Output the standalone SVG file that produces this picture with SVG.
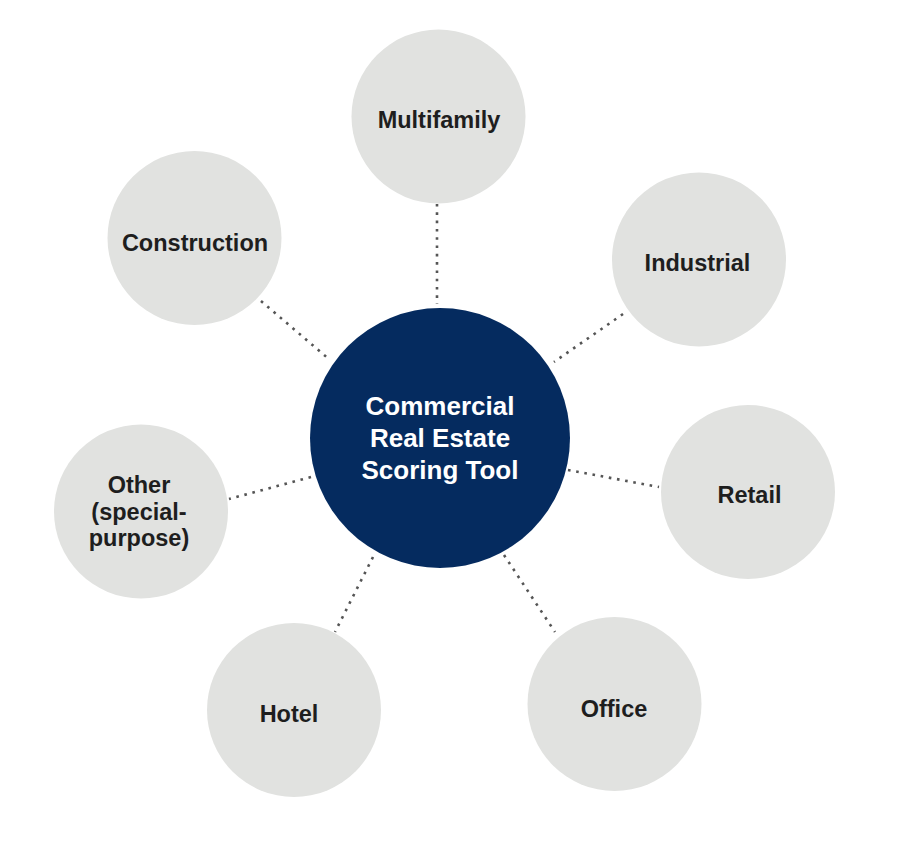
<svg xmlns="http://www.w3.org/2000/svg" width="905" height="844" viewBox="0 0 905 844">
<style>
.sat{fill:#e1e2e0}
.hub{fill:#052b5f}
.lbl{font-family:"Liberation Sans",Arial,sans-serif;font-weight:bold;font-size:23.5px;fill:#1e1e1e;text-anchor:middle}
.hubl{font-family:"Liberation Sans",Arial,sans-serif;font-weight:bold;font-size:26px;fill:#ffffff;text-anchor:middle}
.dot{stroke:#555555;stroke-width:2.6;stroke-dasharray:2.6 5.7;fill:none}
</style>
<rect width="905" height="844" fill="#ffffff"/>
<g id="connectors">
<line class="dot" x1="437" y1="204" x2="437" y2="304"/>
<line class="dot" x1="623" y1="314" x2="554" y2="362"/>
<line class="dot" x1="568" y1="470" x2="659" y2="487"/>
<line class="dot" x1="504" y1="555" x2="555" y2="632"/>
<line class="dot" x1="373" y1="557" x2="335" y2="632"/>
<line class="dot" x1="311" y1="477" x2="229" y2="499"/>
<line class="dot" x1="261" y1="301" x2="330" y2="360"/>
</g>
<g id="hub">
<circle class="hub" cx="440" cy="438" r="130"/>
<text class="hubl" x="440" y="415">Commercial</text>
<text class="hubl" x="440" y="447">Real Estate</text>
<text class="hubl" x="440" y="479">Scoring Tool</text>
</g>
<g id="multifamily">
<circle class="sat" cx="438.5" cy="116.5" r="87"/>
<text class="lbl" x="439" y="128">Multifamily</text>
</g>
<g id="industrial">
<circle class="sat" cx="699" cy="259.5" r="87"/>
<text class="lbl" x="697.5" y="271">Industrial</text>
</g>
<g id="retail">
<circle class="sat" cx="748" cy="492" r="87"/>
<text class="lbl" x="749.5" y="503">Retail</text>
</g>
<g id="office">
<circle class="sat" cx="614.5" cy="704" r="87"/>
<text class="lbl" x="614" y="717">Office</text>
</g>
<g id="hotel">
<circle class="sat" cx="294" cy="710" r="87"/>
<text class="lbl" x="289" y="722">Hotel</text>
</g>
<g id="other">
<circle class="sat" cx="141" cy="511.5" r="87"/>
<text class="lbl" x="139" y="493">Other</text>
<text class="lbl" x="139" y="520">(special-</text>
<text class="lbl" x="139" y="546">purpose)</text>
</g>
<g id="construction">
<circle class="sat" cx="194.5" cy="238" r="87"/>
<text class="lbl" x="195" y="251">Construction</text>
</g>
</svg>
